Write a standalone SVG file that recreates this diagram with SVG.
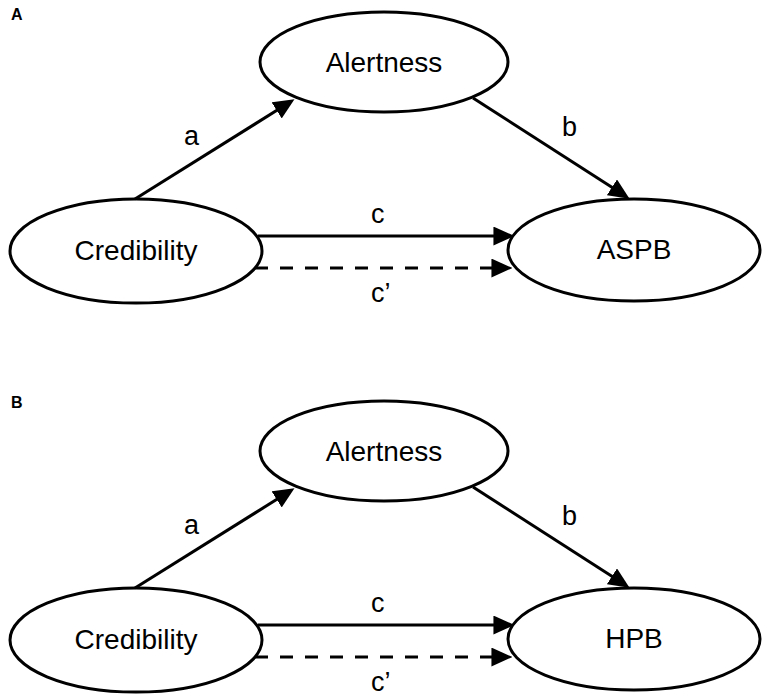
<svg xmlns="http://www.w3.org/2000/svg" width="765" height="696" viewBox="0 0 765 696">
<style>
.node ellipse{fill:#fff;stroke:#000;stroke-width:3}
.lbl{font-family:"Liberation Sans",Arial,sans-serif;font-size:28px;fill:#000;text-anchor:middle}
.edge{font-family:"Liberation Sans",Arial,sans-serif;font-size:27px;fill:#000}
.panel{font-family:"Liberation Sans",Arial,sans-serif;font-size:16px;font-weight:bold;fill:#000}
.conn line{stroke:#000;stroke-width:3;fill:none;marker-end:url(#ah)}
.conn line.dash{stroke-dasharray:13 12}
</style>
<defs>
<marker id="ah" markerUnits="userSpaceOnUse" markerWidth="21" markerHeight="19" viewBox="0 0 20 18" refX="11" refY="9" orient="auto">
<path d="M0,0 L20,9 L0,18 z" fill="#000"/>
</marker>
</defs>
<rect width="765" height="696" fill="#fff"/>
<text class="panel" x="11" y="20">A</text>
<text class="panel" x="11" y="408">B</text>

<g id="A-alertness" class="node"><ellipse cx="384" cy="62" rx="124" ry="50"/><text class="lbl" x="384" y="72">Alertness</text></g>
<g id="A-credibility" class="node"><ellipse cx="136" cy="251" rx="126" ry="52"/><text class="lbl" x="136" y="260">Credibility</text></g>
<g id="A-aspb" class="node"><ellipse cx="634" cy="250" rx="126" ry="51"/><text class="lbl" x="634" y="259">ASPB</text></g>

<g id="B-alertness" class="node"><ellipse cx="384" cy="451" rx="124" ry="50"/><text class="lbl" x="384" y="461">Alertness</text></g>
<g id="B-credibility" class="node"><ellipse cx="136" cy="640" rx="126" ry="52"/><text class="lbl" x="136" y="649">Credibility</text></g>
<g id="B-hpb" class="node"><ellipse cx="634" cy="639" rx="126" ry="51"/><text class="lbl" x="634" y="648">HPB</text></g>

<g id="connectors" class="conn">
<line x1="135" y1="199" x2="286.5" y2="104.3"/>
<line x1="473" y1="98" x2="621.6" y2="193.6"/>
<line x1="258" y1="236" x2="505" y2="236"/>
<line class="dash" x1="255" y1="268" x2="503" y2="268"/>
<line x1="135" y1="588" x2="286.5" y2="493.3"/>
<line x1="473" y1="487" x2="621.6" y2="582.6"/>
<line x1="258" y1="625" x2="505" y2="625"/>
<line class="dash" x1="255" y1="657" x2="503" y2="657"/>
</g>
<g id="edge-labels">
<text class="edge" x="184" y="145">a</text>
<text class="edge" x="562" y="136">b</text>
<text class="edge" x="371" y="223">c</text>
<text class="edge" x="371" y="302">c’</text>
<text class="edge" x="184" y="534">a</text>
<text class="edge" x="562" y="525">b</text>
<text class="edge" x="371" y="612">c</text>
<text class="edge" x="371" y="691">c’</text>
</g>
</svg>
